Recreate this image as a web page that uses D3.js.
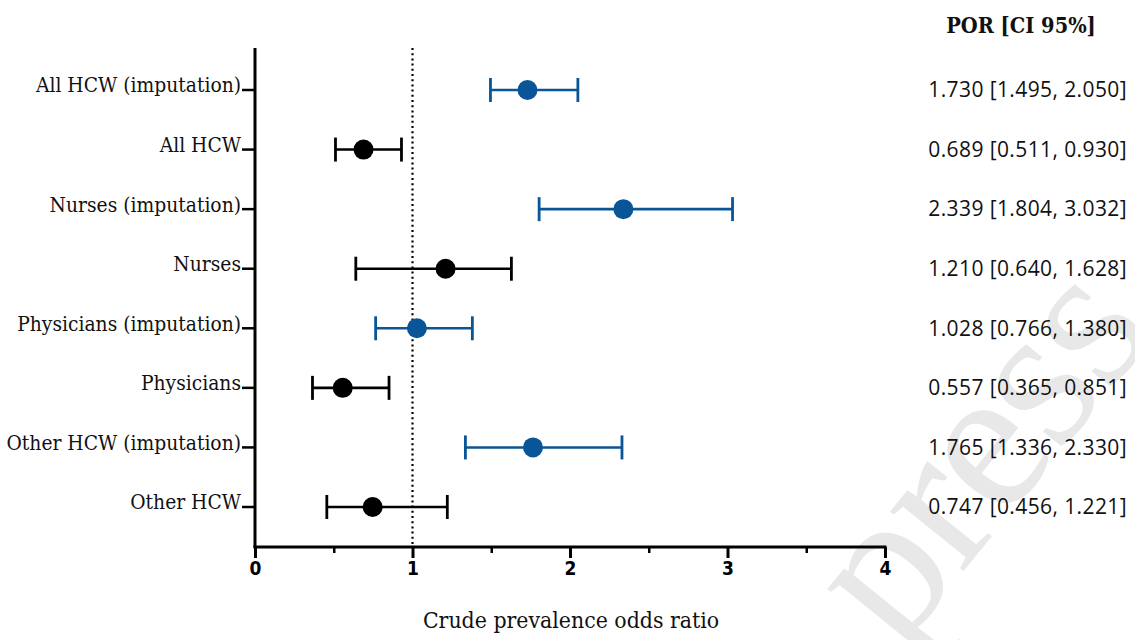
<!DOCTYPE html>
<html>
<head>
<meta charset="utf-8">
<script src="https://cdn.jsdelivr.net/npm/d3@7"></script>
<style>
  body { margin: 0; background: #fff; }
  svg { display: block; }
</style>
</head>
<body>
<svg id="chart" width="1135" height="640"></svg>
<script>
// ── Data ────────────────────────────────────────────────────────────────
const categories = [
  'All HCW (imputation)', 'All HCW', 'Nurses (imputation)', 'Nurses',
  'Physicians (imputation)', 'Physicians', 'Other HCW (imputation)', 'Other HCW'
];
const por   = [1.730, 0.689, 2.339, 1.210, 1.028, 0.557, 1.765, 0.747];
const lower = [1.495, 0.511, 1.804, 0.640, 0.766, 0.365, 1.336, 0.456];
const upper = [2.050, 0.930, 3.032, 1.628, 1.380, 0.851, 2.330, 1.221];
const imputed = [true, false, true, false, true, false, true, false];
const xTicks = [0, 1, 2, 3, 4];
const xMinorTicks = [0.5, 1.5, 2.5, 3.5];

const rows = categories.map((c, i) => ({
  cat: c, por: por[i], lo: lower[i], hi: upper[i], imp: imputed[i]
}));

const svg = d3.select('#chart');
const BLUE = '#0a5597';
const labelFont = '"DejaVu Serif Condensed", "DejaVu Serif", serif';
const sansFont = '"Open Sans", "DejaVu Sans", sans-serif';

const x = d3.scaleLinear().domain([0, 4]).range([255, 885]);
const y = d3.scalePoint().domain(categories).range([90, 507]);
const AXIS_Y = 547;

// watermark (cut off at the edge, as in the source)
svg.append('text')
  .attr('transform', 'translate(898,652) rotate(-51)')
  .attr('font-family', '"Liberation Serif", serif')
  .attr('font-size', 206)
  .attr('letter-spacing', -3)
  .attr('fill', '#e8e8e8')
  .text('press');

// reference line at 1
svg.append('line')
  .attr('x1', x(1)).attr('x2', x(1))
  .attr('y1', 48).attr('y2', AXIS_Y)
  .attr('stroke', '#000').attr('stroke-width', 2.2)
  .attr('stroke-dasharray', '2,3.2');

// y axis
svg.append('line')
  .attr('x1', x(0)).attr('x2', x(0))
  .attr('y1', 48).attr('y2', AXIS_Y + 1)
  .attr('stroke', '#000').attr('stroke-width', 3);

const yG = svg.append('g');
yG.selectAll('line.ytick').data(categories).join('line')
  .attr('class', 'ytick')
  .attr('x1', x(0) - 13).attr('x2', x(0))
  .attr('y1', d => y(d)).attr('y2', d => y(d))
  .attr('stroke', '#000').attr('stroke-width', 2.5);
yG.selectAll('text').data(categories).join('text')
  .attr('x', x(0) - 14)
  .attr('y', d => y(d))
  .attr('dy', '0.12em')
  .attr('text-anchor', 'end')
  .attr('font-family', labelFont)
  .attr('font-size', 20.8)
  .attr('fill', '#111')
  .text(d => d);

// x axis
const xAxis = d3.axisBottom(x).tickValues(xTicks).tickSize(11).tickFormat(d3.format('d'));
const xG = svg.append('g').attr('transform', `translate(0,${AXIS_Y})`).call(xAxis);
xG.select('.domain').attr('stroke-width', 3).attr('d', `M${x(0) - 1.5},0H${x(4) + 1.5}`);
xG.selectAll('.tick line').attr('stroke-width', 3);
xG.selectAll('.tick text')
  .attr('font-family', '"DejaVu Sans Condensed", "DejaVu Sans", sans-serif')
  .attr('font-weight', 'bold')
  .attr('font-size', 19)
  .attr('y', 13)
  .attr('dy', '0.8em')
  .attr('fill', '#000');
svg.append('g').attr('transform', `translate(0,${AXIS_Y})`)
  .call(d3.axisBottom(x).tickValues(xMinorTicks).tickSize(6).tickFormat(''))
  .call(g => g.select('.domain').remove())
  .selectAll('.tick line').attr('stroke-width', 2.5);

svg.append('text')
  .attr('x', x(2) + 1).attr('y', 628)
  .attr('text-anchor', 'middle')
  .attr('font-family', labelFont)
  .attr('font-size', 22.8)
  .attr('fill', '#111')
  .text('Crude prevalence odds ratio');

// error bars + points
const CAP = 12;
const bars = svg.append('g').selectAll('g').data(rows).join('g')
  .attr('stroke', d => d.imp ? BLUE : '#000')
  .attr('fill', d => d.imp ? BLUE : '#000');
bars.append('line')
  .attr('x1', d => x(d.lo)).attr('x2', d => x(d.hi))
  .attr('y1', d => y(d.cat)).attr('y2', d => y(d.cat))
  .attr('stroke-width', 2.6);
bars.append('line')
  .attr('x1', d => x(d.lo)).attr('x2', d => x(d.lo))
  .attr('y1', d => y(d.cat) - CAP).attr('y2', d => y(d.cat) + CAP)
  .attr('stroke-width', 2.8);
bars.append('line')
  .attr('x1', d => x(d.hi)).attr('x2', d => x(d.hi))
  .attr('y1', d => y(d.cat) - CAP).attr('y2', d => y(d.cat) + CAP)
  .attr('stroke-width', 2.8);
bars.append('circle')
  .attr('cx', d => x(d.por)).attr('cy', d => y(d.cat))
  .attr('r', 10).attr('stroke', 'none');

// right column
const fmt = d3.format('.3f');
svg.append('text')
  .attr('x', 1021).attr('y', 33)
  .attr('text-anchor', 'middle')
  .attr('font-family', labelFont)
  .attr('font-weight', 'bold')
  .attr('font-size', 21.6)
  .attr('fill', '#111')
  .text('POR [CI 95%]');
svg.append('g').selectAll('text').data(rows).join('text')
  .attr('x', 1127)
  .attr('y', d => y(d.cat))
  .attr('dy', '0.35em')
  .attr('text-anchor', 'end')
  .attr('font-family', sansFont)
  .attr('font-size', 21)
  .attr('letter-spacing', 0.4)
  .attr('fill', '#111')
  .text(d => `${fmt(d.por)} [${fmt(d.lo)}, ${fmt(d.hi)}]`);
</script>
</body>
</html>
